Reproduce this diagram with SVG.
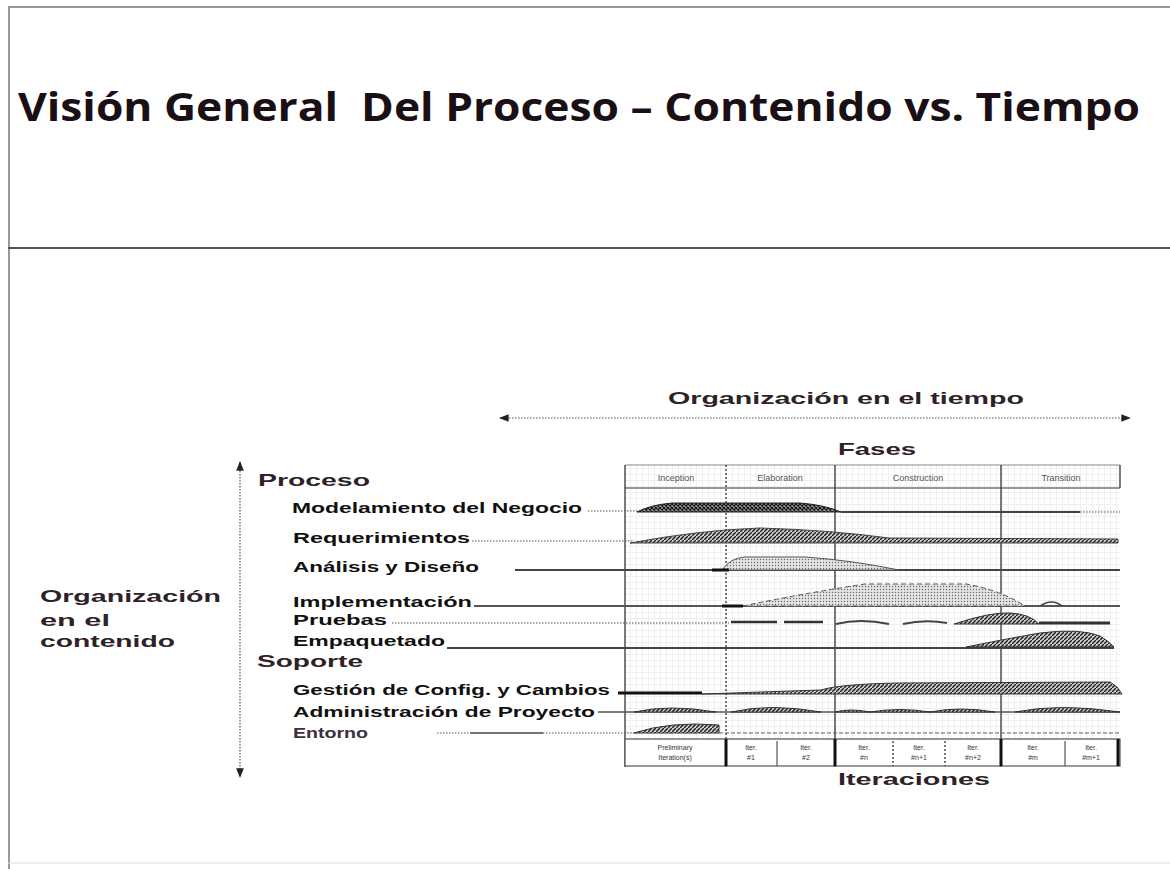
<svg xmlns="http://www.w3.org/2000/svg" width="1170" height="869" viewBox="0 0 1170 869">
<style>
.lbl{font-family:"Liberation Sans",Arial,sans-serif;font-weight:bold;font-size:15px;fill:#111}
.hdr{font-family:"Liberation Sans",Arial,sans-serif;font-weight:bold;font-size:17px;fill:#2e2228}
.ttl{font-family:"Open Sans","Noto Sans",sans-serif;font-weight:bold;font-size:40px;fill:#1a0f14}
.tiny{font-family:"Liberation Sans",Arial,sans-serif;font-size:9px;fill:#555}
.mini{font-family:"Liberation Sans",Arial,sans-serif;font-size:7px;fill:#333;text-anchor:middle}
.base{stroke:#444;stroke-width:2;fill:none}
.dot{stroke:#555;stroke-width:1.2;stroke-dasharray:1.5 1.5;fill:none}
.vl{stroke:#333;stroke-width:1.3;fill:none}
.vd{stroke:#333;stroke-width:1.3;stroke-dasharray:2 2;fill:none}
</style>
<defs>
<pattern id="cross" width="4" height="4" patternUnits="userSpaceOnUse"><rect width="4" height="4" fill="#999"/><path d="M0 0L4 4M4 0L0 4" stroke="#111" stroke-width="1.1"/></pattern>
<pattern id="diag" width="4" height="4" patternUnits="userSpaceOnUse"><rect width="4" height="4" fill="#ccc"/><path d="M0 4L4 0" stroke="#222" stroke-width="1.4"/></pattern>
<pattern id="dots" width="3" height="3" patternUnits="userSpaceOnUse"><rect width="3" height="3" fill="#e4e4e4"/><circle cx="1.5" cy="1.5" r="0.7" fill="#666"/></pattern>
<pattern id="grid" width="6" height="6" patternUnits="userSpaceOnUse"><rect width="6" height="6" fill="#fff"/><path d="M0 0.5H6M0.5 0V6" stroke="#efefef" stroke-width="1"/></pattern>
<marker id="ah" viewBox="0 0 10 10" refX="9" refY="5" markerWidth="8" markerHeight="8" orient="auto-start-reverse"><path d="M0 1L10 5L0 9Z" fill="#222"/></marker>
</defs>
<rect width="1170" height="869" fill="#fff"/>
<g id="frame">
<line x1="8" y1="7" x2="1170" y2="7" stroke="#999" stroke-width="2"/>
<line x1="9" y1="7" x2="9" y2="869" stroke="#999" stroke-width="2"/>
<line x1="8" y1="248" x2="1170" y2="248" stroke="#555" stroke-width="2"/>
<line x1="8" y1="863" x2="1170" y2="863" stroke="#ddd" stroke-width="1"/>
</g>
<g id="title"><text class="ttl" x="18" y="121" textLength="1122" lengthAdjust="spacingAndGlyphs" xml:space="preserve">Visión General  Del Proceso – Contenido vs. Tiempo</text></g>

<g id="connectors">
<line x1="500" y1="418" x2="1130" y2="418" class="dot" marker-start="url(#ah)" marker-end="url(#ah)"/>
<line x1="240" y1="462" x2="240" y2="777" class="dot" stroke-width="2" marker-start="url(#ah)" marker-end="url(#ah)"/>
</g>

<g id="time-label"><text class="hdr" x="668" y="404" textLength="356" lengthAdjust="spacingAndGlyphs">Organización en el tiempo</text></g>
<g id="content-label">
<text class="hdr" x="40" y="602" textLength="181" lengthAdjust="spacingAndGlyphs">Organización</text>
<text class="hdr" x="40" y="626" textLength="70" lengthAdjust="spacingAndGlyphs">en el</text>
<text class="hdr" x="40" y="647" textLength="135" lengthAdjust="spacingAndGlyphs">contenido</text>
</g>

<g id="chart">
<rect x="625" y="465" width="495" height="274" fill="url(#grid)"/>
<text class="hdr" x="838" y="455" textLength="78" lengthAdjust="spacingAndGlyphs">Fases</text>
<line x1="625" y1="465" x2="1120" y2="465" stroke="#888" stroke-width="1"/>
<line x1="625" y1="488" x2="1120" y2="488" stroke="#777" stroke-width="1.5"/>
<line x1="1120" y1="465" x2="1120" y2="488" class="vl"/>
<text class="tiny" x="676" y="481" text-anchor="middle">Inception</text>
<text class="tiny" x="780" y="481" text-anchor="middle">Elaboration</text>
<text class="tiny" x="918" y="481" text-anchor="middle">Construction</text>
<text class="tiny" x="1061" y="481" text-anchor="middle">Transition</text>
<line x1="625" y1="465" x2="625" y2="767" class="vl"/>
<line x1="726" y1="465" x2="726" y2="767" class="vd"/>
<line x1="835" y1="465" x2="835" y2="767" class="vl"/>
<line x1="1001" y1="465" x2="1001" y2="767" class="vl"/>
</g>

<g id="proceso"><text class="hdr" x="258" y="486" textLength="112" lengthAdjust="spacingAndGlyphs">Proceso</text></g>

<g id="modelamiento">
<text class="lbl" x="292" y="513" textLength="290" lengthAdjust="spacingAndGlyphs">Modelamiento del Negocio</text>
<line x1="588" y1="511" x2="637" y2="511" class="dot"/>
<path d="M637 512 Q650 505 672 503 L800 503 Q825 505 841 512 Z" fill="url(#cross)" stroke="#222" stroke-width="1"/>
<line x1="841" y1="512" x2="1080" y2="512" class="base"/>
<line x1="1080" y1="512" x2="1120" y2="512" class="dot"/>
</g>

<g id="requerimientos">
<text class="lbl" x="293" y="543" textLength="177" lengthAdjust="spacingAndGlyphs">Requerimientos</text>
<line x1="472" y1="541" x2="634" y2="541" class="dot"/>
<path d="M630 543 Q700 530 760 528 Q830 530 889 538 L1118 539 L1118 543 Z" fill="url(#diag)" stroke="#444" stroke-width="1"/>
</g>

<g id="analisis">
<text class="lbl" x="293" y="572" textLength="186" lengthAdjust="spacingAndGlyphs">Análisis y Diseño</text>
<line x1="515" y1="570" x2="1120" y2="570" class="base"/>
<path d="M722 570 Q730 558 745 557 L805 557 Q850 560 899 570 Z" fill="url(#dots)" stroke="#555" stroke-width="1"/>
<line x1="712" y1="570" x2="729" y2="570" stroke="#111" stroke-width="3"/>
</g>

<g id="implementacion">
<text class="lbl" x="293" y="607" textLength="179" lengthAdjust="spacingAndGlyphs">Implementación</text>
<line x1="474" y1="606" x2="1120" y2="606" stroke="#555" stroke-width="2"/>
<path d="M743 606 Q800 594 865 584 L966 584 Q1000 590 1025 606 Z" fill="url(#dots)" stroke="#555" stroke-width="1" stroke-dasharray="5 3"/>
<line x1="722" y1="606" x2="743" y2="606" stroke="#111" stroke-width="3"/>
<path d="M1040 606 Q1052 598 1062 606" fill="none" stroke="#444" stroke-width="1.5"/>
</g>

<g id="pruebas">
<text class="lbl" x="293" y="625" textLength="94" lengthAdjust="spacingAndGlyphs">Pruebas</text>
<line x1="392" y1="623" x2="729" y2="623" class="dot"/>
<path d="M731 622 H777 M784 622 H823" stroke="#333" stroke-width="2.5" fill="none"/>
<path d="M836 624 Q860 618 889 624 M903 624 Q925 619 947 623" stroke="#444" stroke-width="2" fill="none"/>
<path d="M954 624 Q990 612 1010 613 Q1030 614 1039 624 Z" fill="url(#diag)" stroke="#333" stroke-width="1"/>
<line x1="1039" y1="623" x2="1110" y2="623" stroke="#333" stroke-width="3"/>
</g>

<g id="empaquetado">
<text class="lbl" x="293" y="646" textLength="152" lengthAdjust="spacingAndGlyphs">Empaquetado</text>
<line x1="447" y1="648" x2="1114" y2="648" class="base"/>
<path d="M966 647 Q1000 640 1040 633 Q1080 628 1100 636 Q1110 642 1114 647 Z" fill="url(#diag)" stroke="#333" stroke-width="1"/>
</g>

<g id="soporte"><text class="hdr" x="257" y="667" textLength="106" lengthAdjust="spacingAndGlyphs">Soporte</text></g>

<g id="gestion">
<text class="lbl" x="293" y="695" textLength="317" lengthAdjust="spacingAndGlyphs">Gestión de Config. y Cambios</text>
<line x1="618" y1="693" x2="702" y2="693" stroke="#111" stroke-width="3"/>
<path d="M702 694 L821 690 Q840 684 900 683 L1110 682 Q1118 686 1122 694 Z" fill="url(#diag)" stroke="#333" stroke-width="1"/>
</g>

<g id="administracion">
<text class="lbl" x="293" y="717" textLength="302" lengthAdjust="spacingAndGlyphs">Administración de Proyecto</text>
<line x1="598" y1="712" x2="1120" y2="712" stroke="#555" stroke-width="1.5"/>
<path d="M634 712 Q670 704 716 712 Z M731 712 Q770 703 821 712 Z M835 712 Q850 708 870 712 Q900 707 930 712 Q960 706 995 712 Z M1015 712 Q1060 703 1120 712 Z" fill="url(#diag)" stroke="#333" stroke-width="1"/>
</g>

<g id="entorno">
<text class="lbl" x="293" y="738" textLength="75" lengthAdjust="spacingAndGlyphs" style="fill:#3a3040">Entorno</text>
<line x1="437" y1="733" x2="470" y2="733" class="dot"/>
<line x1="470" y1="733" x2="543" y2="733" stroke="#444" stroke-width="1.5"/>
<line x1="543" y1="733" x2="634" y2="733" class="dot"/>
<path d="M634 733 Q670 721 719 725 L719 733 Z" fill="url(#diag)" stroke="#333" stroke-width="1"/>
<line x1="719" y1="733" x2="1120" y2="733" stroke="#666" stroke-width="1.2" stroke-dasharray="4 2"/>
</g>

<g id="iteraciones">
<rect x="625" y="739" width="495" height="27" fill="#fff" stroke="#555" stroke-width="1.2"/>
<line x1="726" y1="739" x2="726" y2="766" stroke="#111" stroke-width="3"/>
<line x1="777" y1="741" x2="777" y2="766" stroke="#333" stroke-width="1"/>
<line x1="835" y1="739" x2="835" y2="766" stroke="#111" stroke-width="3"/>
<line x1="893" y1="741" x2="893" y2="766" class="vd"/>
<line x1="945" y1="741" x2="945" y2="766" class="vd"/>
<line x1="1001" y1="739" x2="1001" y2="766" stroke="#111" stroke-width="3"/>
<line x1="1065" y1="741" x2="1065" y2="766" stroke="#333" stroke-width="1"/>
<line x1="1118" y1="739" x2="1118" y2="766" stroke="#111" stroke-width="3"/>
<text class="mini" x="675" y="750">Preliminary</text><text class="mini" x="675" y="760">Iteration(s)</text>
<text class="mini" x="751" y="750">Iter.</text><text class="mini" x="751" y="760">#1</text>
<text class="mini" x="806" y="750">Iter.</text><text class="mini" x="806" y="760">#2</text>
<text class="mini" x="864" y="750">Iter.</text><text class="mini" x="864" y="760">#n</text>
<text class="mini" x="919" y="750">Iter.</text><text class="mini" x="919" y="760">#n+1</text>
<text class="mini" x="973" y="750">Iter.</text><text class="mini" x="973" y="760">#n+2</text>
<text class="mini" x="1033" y="750">Iter.</text><text class="mini" x="1033" y="760">#m</text>
<text class="mini" x="1091" y="750">Iter.</text><text class="mini" x="1091" y="760">#m+1</text>
<text class="hdr" x="838" y="785" textLength="152" lengthAdjust="spacingAndGlyphs">Iteraciones</text>
</g>
</svg>
